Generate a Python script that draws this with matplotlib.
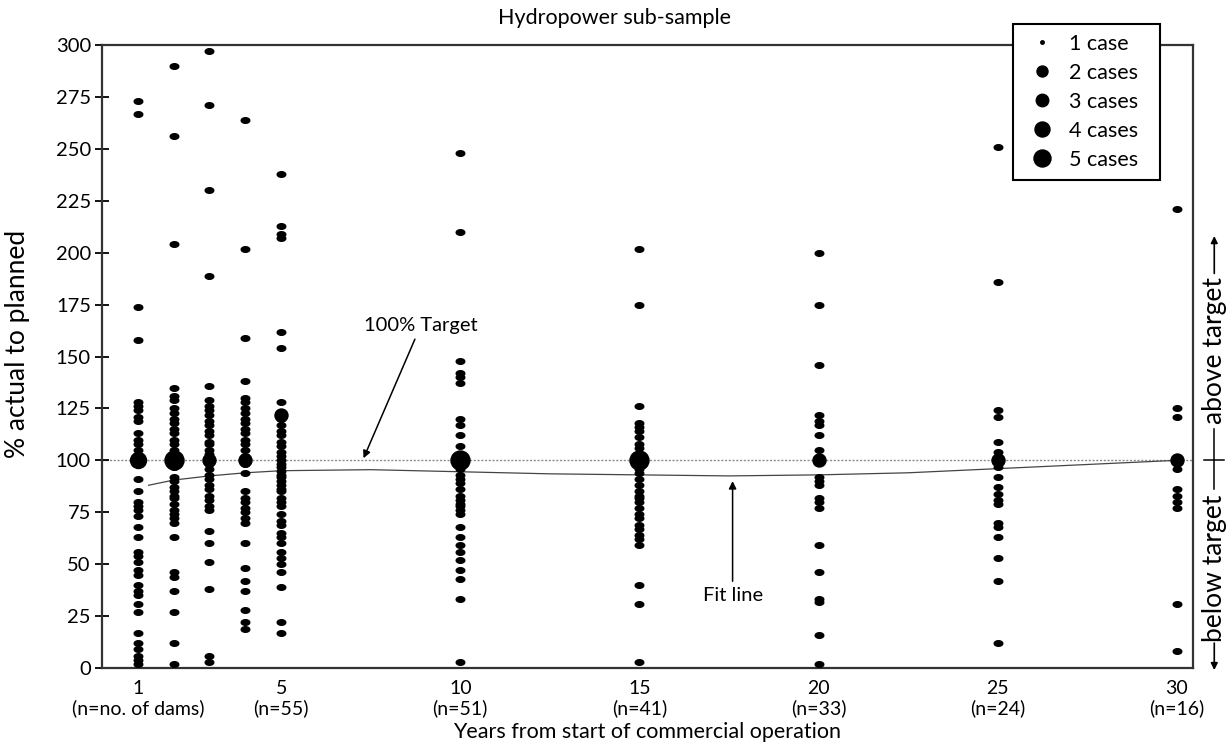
import numpy as np
import matplotlib
matplotlib.use("Agg")
import matplotlib.pyplot as plt
from matplotlib.path import Path
from matplotlib.lines import Line2D
from matplotlib import transforms

plt.rcParams['font.family'] = ['Lato', 'DejaVu Sans']

# --- data --------------------------------------------------------------
years = [1, 2, 3, 4, 5, 10, 15, 20, 25, 30]

vals_y1 = [273, 267, 174, 158, 128, 126, 124, 121, 119, 113, 110, 108, 105,
           91, 85, 80, 78, 76, 73, 68, 63, 56, 54, 51, 47, 45, 40, 37, 35,
           31, 27, 17, 12, 9, 6, 4, 2]
vals_y2 = [290, 256, 204, 135, 131, 129, 125, 123, 120, 118, 115, 113, 110,
           108, 105, 102, 97, 92, 90, 87, 85, 83, 82, 79, 76, 74, 72, 70, 63,
           46, 44, 37, 27, 12, 2]
vals_y3 = [297, 271, 230, 189, 136, 129, 126, 124, 122, 119, 117, 114, 112,
           109, 108, 105, 103, 98, 96, 93, 91, 88, 86, 83, 81, 78, 76, 66, 60,
           51, 38, 6, 3]
vals_y4 = [264, 202, 159, 138, 130, 128, 125, 123, 120, 118, 115, 113, 110,
           108, 105, 102, 98, 94, 85, 82, 80, 77, 75, 72, 70, 60, 48, 42, 37,
           28, 22, 19]
vals_y5 = [238, 213, 209, 207, 162, 154, 128, 120, 117, 114, 112, 109, 107,
           104, 102, 100, 98, 97, 95, 93, 92, 90, 88, 86, 85, 82, 80, 78, 74,
           71, 69, 65, 63, 60, 56, 53, 50, 46, 39, 22, 17]
vals_y10 = [248, 210, 148, 142, 140, 137, 120, 117, 112, 107, 96, 93, 91, 89,
            86, 83, 81, 79, 78, 76, 74, 68, 63, 59, 56, 52, 47, 43, 33, 3]
vals_y15 = [202, 175, 126, 118, 116, 114, 111, 108, 106, 103, 96, 94, 91, 88,
            85, 83, 82, 80, 77, 74, 72, 69, 67, 64, 62, 59, 40, 31, 3]
vals_y20 = [200, 175, 146, 122, 119, 117, 112, 105, 92, 90, 88, 82, 80, 77,
            59, 46, 33, 32, 16, 2]
vals_y25 = [251, 186, 124, 121, 109, 104, 97, 92, 87, 84, 81, 79, 70, 68, 63,
            53, 42, 12]
vals_y30 = [221, 125, 121, 96, 86, 83, 80, 77, 31, 8]

columns = [vals_y1, vals_y2, vals_y3, vals_y4, vals_y5,
           vals_y10, vals_y15, vals_y20, vals_y25, vals_y30]

# points where several dams share the same value
stack_years = [1, 2, 3, 4, 5, 10, 15, 20, 25, 30]
stack_values = [100, 100, 100, 100, 122, 100, 100, 100, 100, 100]
stack_counts = [4, 5, 3, 3, 3, 5, 5, 3, 3, 3]

fit_years = [1.3, 2, 3, 4, 5, 7.5, 10, 12.5, 15, 17.5, 20, 22.5, 25, 27.5, 30]
fit_values = [88, 90.5, 92.5, 94, 95, 95.5, 94.5, 93.5, 93, 92.5, 93, 94,
              96, 98, 100]

tick_years = [1, 5, 10, 15, 20, 25, 30]
tick_n = ["n=no. of dams", "n=55", "n=51", "n=41", "n=33", "n=24", "n=16"]

legend_labels = ["1 case", "2 cases", "3 cases", "4 cases", "5 cases"]

# --- styling --------------------------------------------------------------
dot_px = [7, 9, 13, 16, 19]          # marker size (px) by number of cases
legend_px = [3.5, 11, 12.5, 15, 17]
PT = 0.72                             # px -> pt at 100 dpi
FS = 14.5
FS_TICK = 14
FS_BIG = 15.5
FS_ROT = 19

t = np.linspace(0, 2 * np.pi, 40)
ellipse = Path(np.column_stack([np.cos(t), 0.65 * np.sin(t)]))

fig = plt.figure(figsize=(12.28, 7.44), dpi=100)
ax = fig.add_axes([102 / 1228, 1 - 668 / 744, (1193 - 102) / 1228, (668 - 45) / 744])

ax.axhline(100, color="#8c8c8c", lw=1.0, ls=(0, (1.5, 1.2)), zorder=1)
ax.plot(fit_years, fit_values, color="#444444", lw=0.9, zorder=2)

for yr, vals in zip(years, columns):
    ax.plot([yr] * len(vals), vals, ls="none", marker=ellipse, ms=6.2,
            color="black", clip_on=False, zorder=3)

for yr, v, c in zip(stack_years, stack_values, stack_counts):
    ax.plot(yr, v, ls="none", marker="o", ms=dot_px[c - 1] * PT,
            color="black", clip_on=False, zorder=4)

ax.set_xlim(0, 30.45)
ax.set_ylim(0, 300)
ax.set_yticks(range(0, 301, 25))
ax.set_xticks(tick_years)
ax.set_xticklabels([f"{y}\n({n})" for y, n in zip(tick_years, tick_n)],
                   linespacing=1.1)
ax.tick_params(axis="x", length=0, pad=9, labelsize=FS_TICK)
ax.tick_params(axis="y", length=10, width=1.3, direction="inout", pad=3,
               labelsize=FS)
for sp in ax.spines.values():
    sp.set_linewidth(1.6)
    sp.set_color("#333333")

ax.set_ylabel("% actual to planned", fontsize=FS_ROT)
ax.yaxis.set_label_coords(-0.066, 0.52)
ax.set_xlabel("Years from start of commercial operation", fontsize=FS_BIG,
              labelpad=4)
fig.text(0.5, 1 - 18 / 744, "Hydropower sub-sample", ha="center", va="center",
         fontsize=FS_BIG)

arrow = dict(arrowstyle="-|>", color="black", lw=1.1, shrinkA=2, shrinkB=0,
             mutation_scale=11)
ax.annotate("100% Target", xy=(7.3, 101), xytext=(8.9, 165), ha="center",
            va="center", fontsize=FS, arrowprops=arrow)
ax.annotate("Fit line", xy=(17.6, 90), xytext=(17.6, 35), ha="center",
            va="center", fontsize=FS, arrowprops=arrow)

# right-hand side "below / above target" scale
side = transforms.blended_transform_factory(ax.transAxes, ax.transData)
sx = 1.0195
ax.text(sx, 153, "above target", rotation=90, ha="center", va="center",
        transform=side, fontsize=FS_ROT)
ax.text(sx, 48, "below target", rotation=90, ha="center", va="center",
        transform=side, fontsize=FS_ROT)
side_arrow = dict(arrowstyle="-|>", color="black", lw=1.2, shrinkA=0,
                  shrinkB=0, mutation_scale=10)
ax.annotate("", xy=(sx, 208), xytext=(sx, 190), xycoords=side,
            textcoords=side, arrowprops=side_arrow)
ax.annotate("", xy=(sx, -1), xytext=(sx, 12), xycoords=side,
            textcoords=side, arrowprops=side_arrow)
ax.plot([sx, sx], [86, 115], transform=side, color="black", lw=1.1,
        clip_on=False)
ax.plot([sx - 0.009, sx + 0.009], [100, 100], transform=side, color="black",
        lw=1.1, clip_on=False)

handles = [Line2D([], [], ls="none", marker="o", color="black", ms=s * PT)
           for s in legend_px]
leg = fig.legend(handles, legend_labels, loc="upper left",
                 bbox_to_anchor=(1013 / 1228, 1 - 24 / 744, 147 / 1228, 0.0),
                 mode="expand", frameon=True, fancybox=False,
                 edgecolor="black", framealpha=1, fontsize=FS_BIG,
                 labelspacing=0.42, handlelength=1.8, handletextpad=0.35,
                 borderpad=0.45, borderaxespad=0)
leg.get_frame().set_linewidth(1.5)

fig.savefig("out.png", dpi=100)
